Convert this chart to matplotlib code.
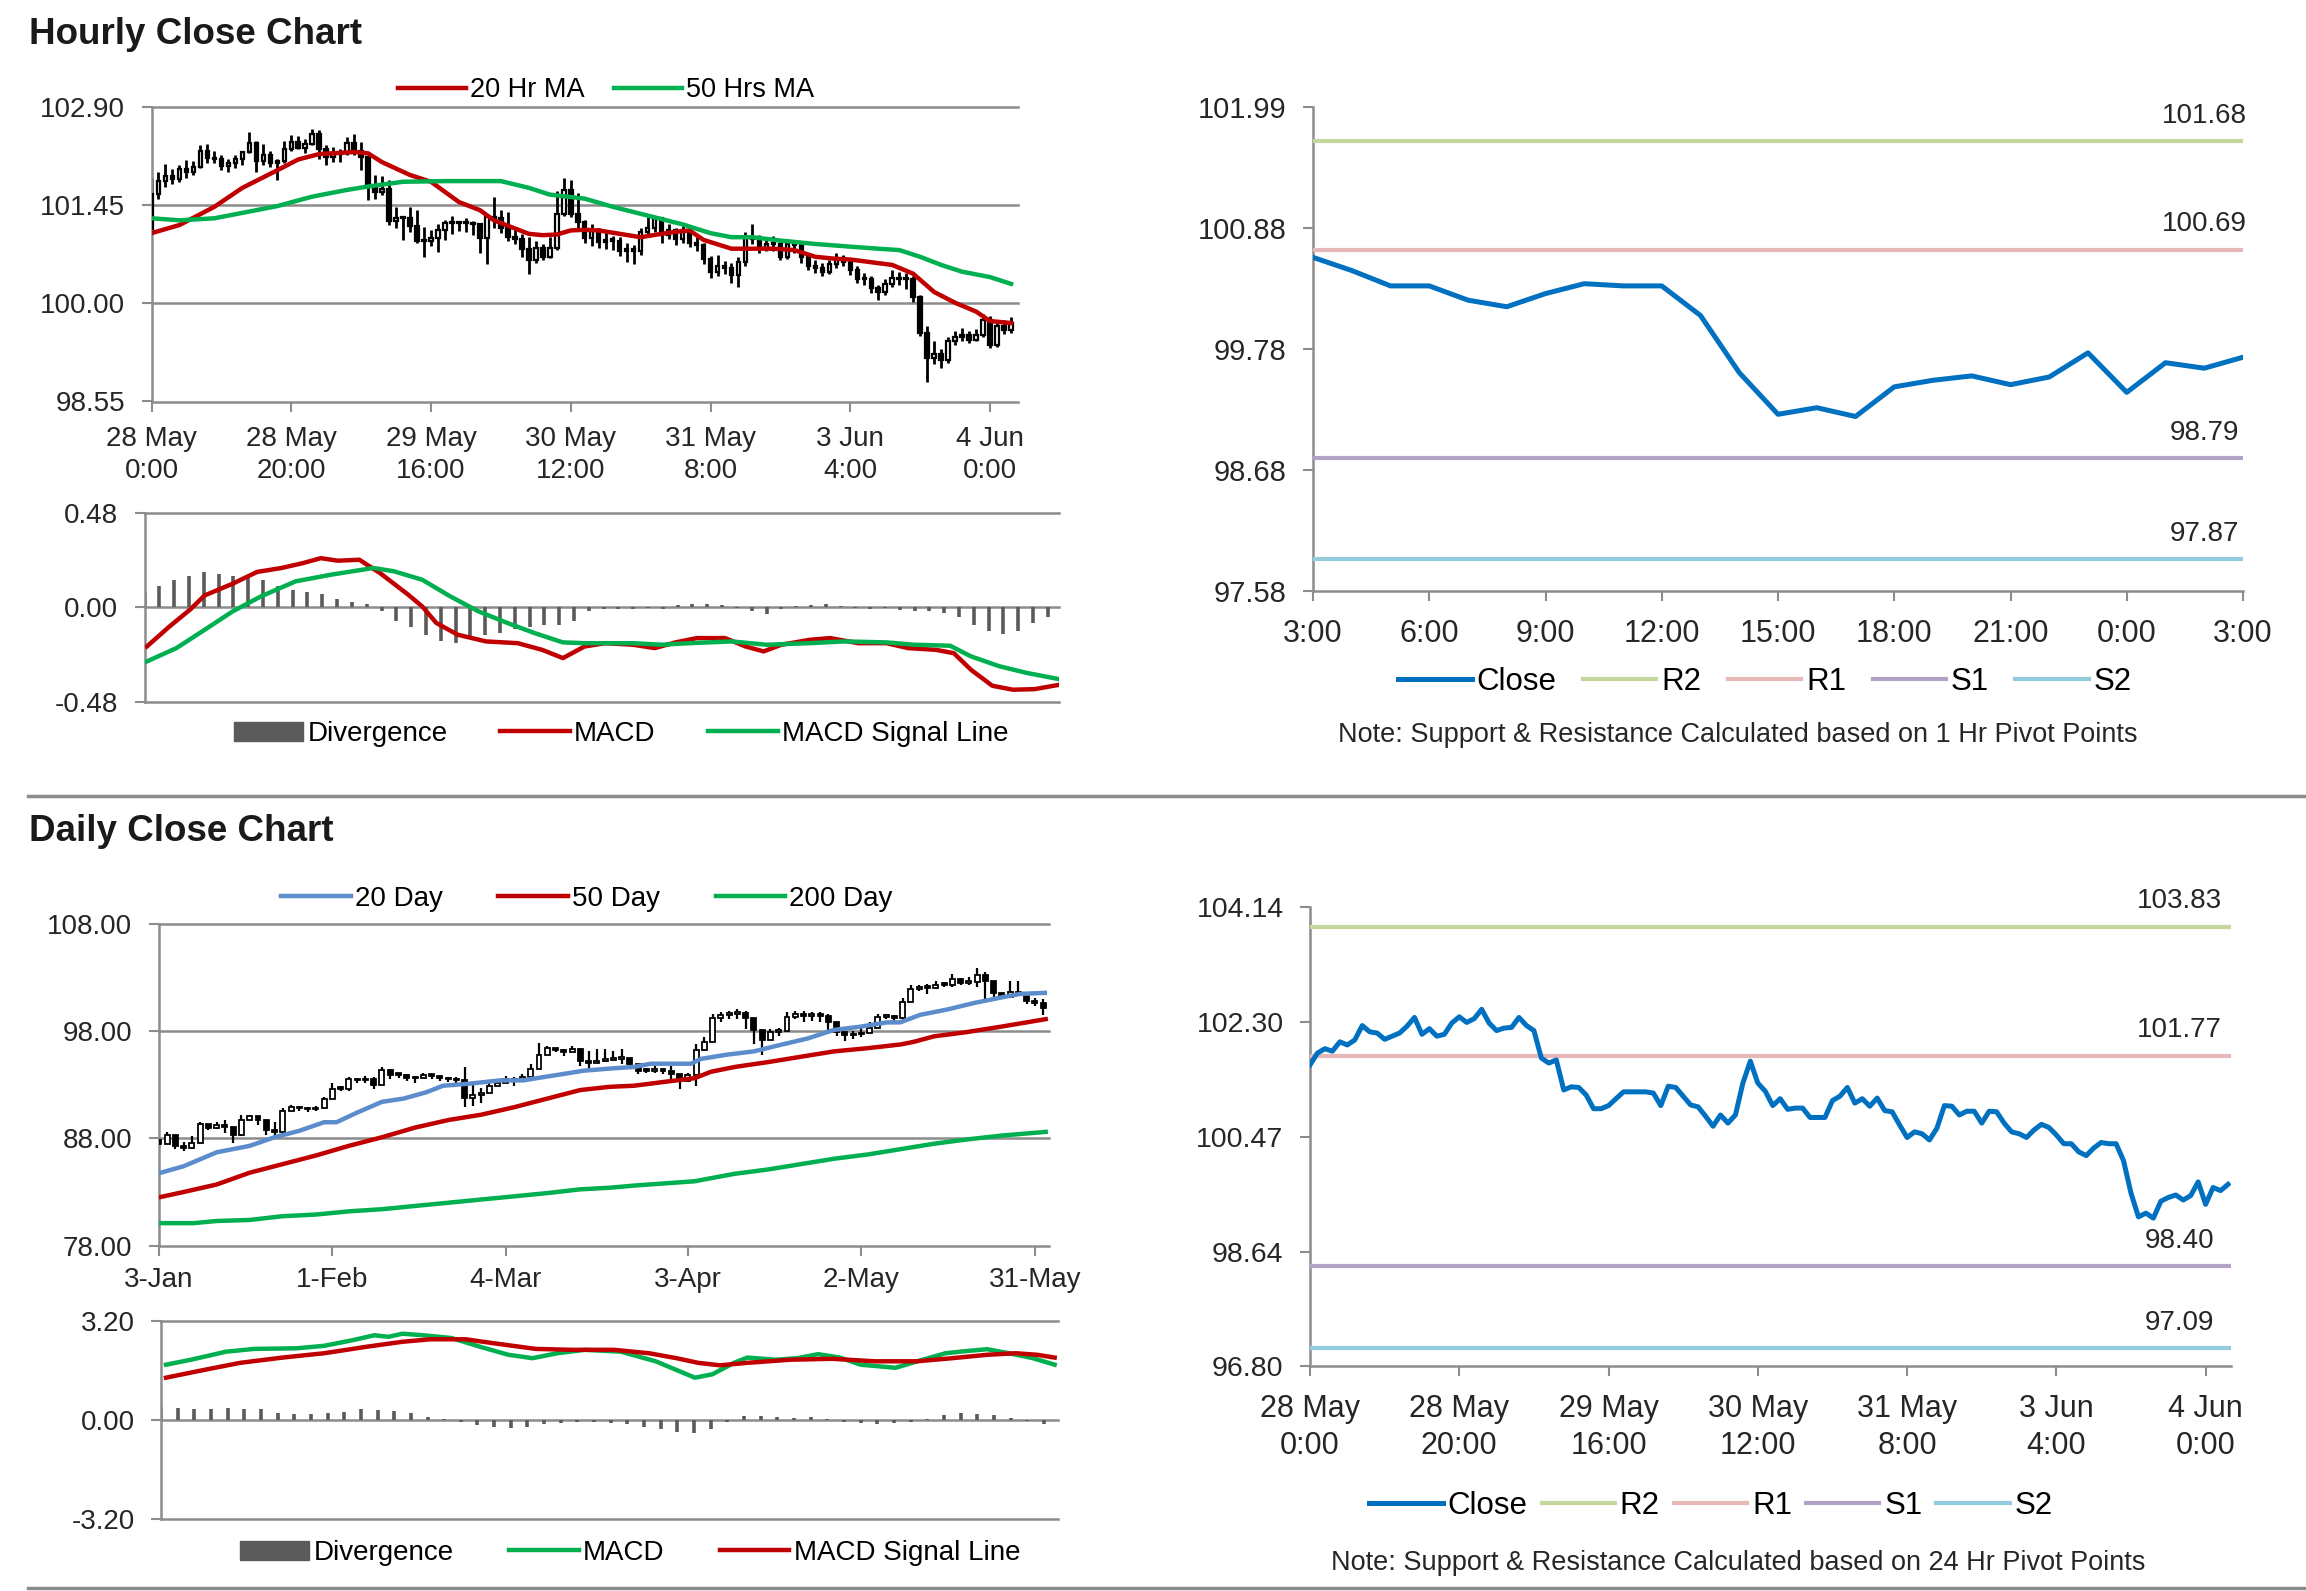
import matplotlib.pyplot as plt
from matplotlib.lines import Line2D
from matplotlib.patches import Patch
import numpy as np

plt.rcParams['font.family'] = ['Liberation Sans', 'DejaVu Sans']

W, H = 2306, 1591

# ---------------- hourly data (28 May 0:00 -> 4 Jun 3:00, one value per trading hour)
h_first_open = 101.10
h_close = [101.62, 101.81, 101.88, 101.84, 101.99, 101.94, 102.02, 102.25, 102.15, 102.13,
           102.03, 102.08, 102.13, 102.24, 102.38, 102.11, 102.20, 102.08, 102.11, 102.29,
           102.39, 102.30, 102.36, 102.51, 102.29, 102.17, 102.21, 102.22, 102.38, 102.25,
           102.17, 101.73, 101.65, 101.70, 101.22, 101.27, 101.26, 101.14, 100.92, 100.92,
           100.97, 101.08, 101.19, 101.19, 101.19, 101.19, 101.17, 100.97, 101.28, 101.26,
           101.12, 100.98, 100.95, 100.80, 100.64, 100.82, 100.69, 100.82, 101.33, 101.68,
           101.33, 101.20, 100.97, 101.08, 100.91, 100.93, 100.93, 100.78, 100.78, 100.78,
           101.05, 101.12, 101.26, 101.01, 101.08, 100.96, 101.09, 100.89, 100.87, 100.66,
           100.46, 100.55, 100.52, 100.42, 100.61, 100.97, 100.96, 100.82, 100.88, 100.88,
           100.69, 100.88, 100.87, 100.69, 100.55, 100.52, 100.46, 100.58, 100.67, 100.62,
           100.50, 100.36, 100.36, 100.23, 100.17, 100.29, 100.38, 100.36, 100.36, 100.09,
           99.57, 99.19, 99.25, 99.17, 99.44, 99.50, 99.54, 99.46, 99.53, 99.75,
           99.39, 99.66, 99.61, 99.71]
h_high = [101.85, 101.95, 102.07, 101.99, 102.05, 102.12, 102.10, 102.34, 102.36, 102.26,
          102.19, 102.14, 102.19, 102.26, 102.54, 102.41, 102.36, 102.26, 102.14, 102.41,
          102.49, 102.47, 102.44, 102.58, 102.56, 102.34, 102.31, 102.29, 102.46, 102.51,
          102.39, 102.17, 101.90, 101.88, 101.82, 101.43, 101.30, 101.42, 101.38, 101.13,
          101.08, 101.18, 101.23, 101.30, 101.22, 101.26, 101.22, 101.18, 101.30, 101.57,
          101.38, 101.35, 101.13, 101.03, 100.98, 100.93, 100.88, 100.98, 101.67, 101.85,
          101.82, 101.63, 101.23, 101.18, 101.12, 101.05, 101.00, 100.98, 100.90, 100.86,
          101.12, 101.28, 101.30, 101.27, 101.18, 101.12, 101.15, 101.10, 100.98, 100.90,
          100.70, 100.72, 100.63, 100.60, 100.69, 101.05, 101.18, 101.02, 100.98, 101.00,
          100.93, 100.95, 100.93, 100.90, 100.74, 100.64, 100.60, 100.65, 100.74, 100.72,
          100.66, 100.55, 100.45, 100.40, 100.28, 100.36, 100.49, 100.46, 100.45, 100.40,
          100.12, 99.66, 99.45, 99.32, 99.50, 99.60, 99.63, 99.60, 99.62, 99.85,
          99.82, 99.72, 99.75, 99.80]
h_low = [101.06, 101.55, 101.72, 101.77, 101.80, 101.85, 101.90, 102.00, 102.08, 102.08,
         101.97, 101.95, 102.00, 102.05, 102.22, 101.94, 102.05, 102.02, 101.82, 102.08,
         102.26, 102.28, 102.22, 102.34, 102.14, 102.05, 102.09, 102.09, 102.20, 102.20,
         101.97, 101.53, 101.55, 101.60, 101.16, 101.11, 100.94, 101.05, 100.89, 100.69,
         100.85, 100.76, 100.94, 101.03, 101.07, 101.05, 101.02, 100.74, 100.59, 101.11,
         101.04, 100.92, 100.88, 100.69, 100.44, 100.60, 100.64, 100.67, 100.79, 101.30,
         101.28, 101.12, 100.90, 100.85, 100.82, 100.80, 100.79, 100.70, 100.62, 100.59,
         100.72, 101.00, 101.05, 100.89, 100.95, 100.86, 100.90, 100.84, 100.78, 100.58,
         100.38, 100.40, 100.43, 100.30, 100.25, 100.55, 100.88, 100.75, 100.78, 100.78,
         100.65, 100.66, 100.74, 100.60, 100.49, 100.45, 100.40, 100.44, 100.53, 100.55,
         100.42, 100.30, 100.28, 100.15, 100.05, 100.12, 100.24, 100.28, 100.22, 100.02,
         99.52, 98.84, 99.10, 99.05, 99.12, 99.38, 99.45, 99.42, 99.44, 99.50,
         99.34, 99.36, 99.55, 99.56]

ma20_h_x = [0, 4, 9, 13, 18, 21, 24, 29, 31, 33, 37, 40, 42, 44, 47, 49, 52, 54, 56, 58,
            60, 62, 64, 67, 70, 73, 75, 77, 79, 83, 86, 89, 92, 95, 98, 100, 103, 106, 109, 112,
            115, 118, 120, 123]
ma20_h = [101.04, 101.16, 101.43, 101.71, 101.97, 102.13, 102.21, 102.24, 102.22, 102.09,
          101.90, 101.80, 101.65, 101.50, 101.38, 101.23, 101.11, 101.03, 101.01, 101.02,
          101.08, 101.09, 101.08, 101.03, 100.98, 101.03, 101.06, 101.08, 100.94, 100.81,
          100.81, 100.81, 100.79, 100.69, 100.66, 100.65, 100.61, 100.57, 100.44, 100.17,
          100.01, 99.88, 99.74, 99.71]
ma50_h_x = [0, 4, 9, 13, 18, 23, 28, 31, 36, 42, 50, 54, 57, 62, 66, 71, 76, 80, 83, 86,
            90, 95, 100, 104, 107, 110, 113, 116, 120, 123]
ma50_h = [101.26, 101.23, 101.26, 101.34, 101.44, 101.58, 101.68, 101.73, 101.80, 101.81,
          101.81, 101.71, 101.61, 101.55, 101.43, 101.30, 101.17, 101.04, 100.98, 100.98,
          100.93, 100.88, 100.84, 100.81, 100.79, 100.69, 100.57, 100.47, 100.39, 100.29]

macd_h_x = [0.3, 3.3, 6.2, 8.1, 11.9, 15.2, 18.5, 21.4, 23.8, 26.1, 29, 31.8, 35.6, 37.5,
            39.4, 42.3, 46.1, 50.4, 53.7, 56.5, 59.4, 62.2, 66, 68.9, 71.7, 74.6, 78.4, 81.2,
            83.6, 86, 89.8, 92.6, 96.4, 100.2, 103.1, 106.9, 109.3, 111.6, 114.5, 117.3,
            120.2, 123.5]
macd_h = [-0.20, -0.10, -0.01, 0.06, 0.12, 0.18, 0.20, 0.225, 0.25, 0.237, 0.242, 0.174,
          0.064, 0.004, -0.08, -0.14, -0.174, -0.183, -0.217, -0.259, -0.20, -0.183, -0.191,
          -0.208, -0.179, -0.157, -0.157, -0.20, -0.225, -0.191, -0.166, -0.157, -0.183,
          -0.183, -0.208, -0.217, -0.234, -0.318, -0.40, -0.42, -0.417, -0.395]
sig_h_x = [0.3, 4.3, 8.1, 11.9, 15.7, 20.4, 25.2, 30.9, 33.7, 37.5, 41.3, 45.1, 49, 52.7,
           56.5, 59.4, 66, 69.8, 73.6, 79.3, 84, 89.8, 94.5, 100.2, 104, 108.8, 111.6, 115.4,
           119.2, 123.5]
sig_h = [-0.276, -0.208, -0.115, -0.021, 0.055, 0.132, 0.166, 0.20, 0.183, 0.14, 0.055,
         -0.021, -0.08, -0.132, -0.179, -0.183, -0.183, -0.191, -0.183, -0.174, -0.191,
         -0.183, -0.174, -0.179, -0.191, -0.196, -0.25, -0.30, -0.335, -0.366]
# divergence, every second hour
div_h = [0.08, 0.11, 0.14, 0.16, 0.18, 0.17, 0.16, 0.15, 0.14, 0.11, 0.09, 0.08, 0.07,
         0.04, 0.025, 0.015, -0.02, -0.07, -0.10, -0.14, -0.17, -0.18, -0.16, -0.14, -0.13,
         -0.11, -0.10, -0.09, -0.09, -0.07, -0.02, -0.01, -0.01, -0.01, -0.005, -0.01, 0.01,
         0.015, 0.015, 0.01, -0.005, -0.02, -0.035, -0.01, 0.005, 0.01, 0.015, 0.005, -0.005,
         -0.01, -0.005, -0.015, -0.02, -0.02, -0.03, -0.05, -0.09, -0.12, -0.135, -0.12,
         -0.08, -0.05]

h_ticks = [0, 20, 40, 60, 80, 100, 120]
h_labels = ['28 May\n0:00', '28 May\n20:00', '29 May\n16:00', '30 May\n12:00',
            '31 May\n8:00', '3 Jun\n4:00', '4 Jun\n0:00']

# 1 hr pivot chart: last 25 hourly closes (3 Jun 3:00 -> 4 Jun 3:00)
p1_labels = ['3:00', '6:00', '9:00', '12:00', '15:00', '18:00', '21:00', '0:00', '3:00']
p1_levels = [101.68, 100.69, 98.79, 97.87]
p1_yticks = ['97.58', '98.68', '99.78', '100.88', '101.99']
p24_levels = [103.83, 101.77, 98.40, 97.09]
p24_yticks = ['96.80', '98.64', '100.47', '102.30', '104.14']
level_names = ['R2', 'R1', 'S1', 'S2']

# ---------------- daily data (3 Jan -> 4 Jun, trading days)
d_first_open = 87.8
d_close = [87.5, 88.3, 87.3, 87.1, 87.6, 89.3, 89.0, 89.2, 89.1, 88.3,
           89.7, 90.1, 89.7, 88.8, 88.6, 90.5, 90.9, 90.8, 90.7, 90.8,
           91.7, 92.6, 92.6, 93.5, 93.4, 93.5, 93.0, 94.4, 93.9, 93.9,
           93.6, 93.6, 93.9, 93.8, 93.6, 93.5, 93.4, 91.8, 92.0, 92.2,
           92.9, 93.2, 93.5, 93.3, 93.7, 94.5, 95.8, 96.4, 96.2, 96.0,
           96.3, 95.2, 95.0, 95.2, 95.3, 95.4, 95.5, 94.9, 94.3, 94.3,
           94.4, 94.3, 94.0, 93.3, 93.9, 96.2, 97.0, 99.2, 99.5, 99.6,
           99.7, 99.2, 98.1, 97.2, 97.9, 98.0, 99.3, 99.6, 99.4, 99.5,
           99.4, 98.8, 97.9, 97.6, 97.7, 97.8, 98.3, 99.3, 99.4, 99.2,
           100.7, 101.9, 102.0, 102.0, 102.3, 102.3, 102.8, 102.5, 102.6, 103.2,
           102.7, 101.5, 101.2, 101.6, 101.5, 100.8, 100.6, 100.1]
d_high = [87.94, 88.56, 88.0, 87.7, 88.25, 89.5, 89.25, 89.55, 89.75, 89.0,
          90.2, 90.2, 90.1, 88.95, 89.55, 90.8, 91.1, 91.0, 90.9, 91.0,
          91.85, 93.2, 92.9, 93.7, 93.6, 93.8, 93.7, 94.65, 94.45, 94.1,
          94.0, 93.8, 94.1, 93.95, 93.8, 93.7, 93.7, 94.65, 93.0, 92.7,
          93.2, 93.5, 93.8, 93.7, 93.95, 94.9, 96.85, 96.6, 96.45, 96.3,
          96.6, 96.45, 96.1, 96.3, 96.3, 96.1, 96.3, 95.2, 94.75, 94.55,
          94.75, 94.55, 94.75, 93.95, 94.1, 96.75, 97.4, 99.55, 99.75, 99.9,
          100.05, 99.9, 98.6, 97.9, 98.2, 98.3, 99.75, 99.9, 99.9, 99.75,
          99.75, 99.55, 98.3, 97.9, 98.0, 98.3, 98.8, 99.55, 99.55, 99.45,
          101.1, 102.25, 102.25, 102.4, 102.7, 102.55, 103.3, 102.9, 103.0, 103.9,
          103.5, 102.25, 101.45, 102.7, 102.7, 101.3, 101.1, 101.0]
d_low = [87.0, 88.0, 87.0, 86.85, 87.0, 88.2, 88.8, 88.9, 88.5, 87.55,
         88.2, 89.75, 89.25, 88.3, 88.2, 88.5, 90.7, 90.5, 90.45, 90.5,
         91.5, 92.25, 92.4, 92.4, 93.2, 93.2, 92.55, 93.2, 93.5, 93.6,
         93.3, 93.2, 93.6, 93.5, 93.3, 93.25, 93.2, 90.9, 91.0, 91.3,
         92.7, 92.9, 93.3, 92.9, 93.5, 94.1, 94.75, 96.1, 96.0, 95.7,
         96.0, 94.75, 94.55, 95.05, 95.1, 95.2, 94.9, 94.75, 93.95, 94.1,
         94.1, 93.95, 93.2, 92.55, 93.6, 92.9, 96.1, 98.0, 98.8, 99.1,
         99.1, 98.2, 96.75, 95.8, 97.4, 97.55, 98.2, 99.1, 98.8, 98.9,
         98.8, 98.0, 97.55, 97.05, 97.25, 97.4, 98.0, 98.9, 99.1, 98.8,
         98.8, 100.7, 101.75, 101.45, 102.05, 102.05, 102.05, 102.25, 102.25, 102.05,
         100.7, 101.1, 101.0, 101.3, 101.3, 100.5, 100.35, 99.45]

ma20_d_x = [0, 3, 7, 11, 14, 17, 20, 21.5, 24, 27, 29.6, 32.4, 34.4, 37.7, 41.3, 44.1, 45.7,
            49, 51.4, 54.6, 57.5, 59.5, 61.6, 64.4, 65.6, 68.8, 72, 75.2, 78.5, 81.7, 84.9,
            88.1, 89.7, 92.1, 95.4, 98.6, 101.8, 104.2, 107.2]
ma20_d = [84.75, 85.4, 86.7, 87.3, 88.1, 88.7, 89.5, 89.5, 90.4, 91.4, 91.7, 92.3, 92.9,
          93.1, 93.4, 93.4, 93.6, 94.0, 94.3, 94.5, 94.65, 94.95, 94.95, 94.95, 95.4, 95.8,
          96.1, 96.7, 97.3, 98.1, 98.4, 98.8, 98.8, 99.5, 100.0, 100.6, 101.1, 101.45, 101.55]
ma50_d_x = [0, 3, 7, 11, 15, 19, 23, 27, 31, 35, 39, 43, 47, 51, 54.6, 57.5, 61.6, 64.8,
            66.8, 69.7, 73.7, 77.7, 81.7, 85.8, 89.8, 91.4, 93.8, 97.8, 101.9, 107.3]
ma50_d = [82.5, 83.0, 83.7, 84.8, 85.6, 86.4, 87.3, 88.1, 89.0, 89.7, 90.2, 90.9, 91.7,
          92.5, 92.8, 92.9, 93.3, 93.6, 94.2, 94.65, 95.1, 95.6, 96.1, 96.4, 96.75, 97.0,
          97.5, 97.9, 98.4, 99.1]
ma200_d_x = [0, 4.2, 7, 11, 15, 19, 23, 27, 31, 35, 39, 43, 47, 51, 54.6, 57.5, 64.8,
             69.7, 73.7, 77.7, 81.7, 85.8, 89.8, 93.8, 97.8, 101.9, 107.3]
ma200_d = [80.1, 80.1, 80.3, 80.4, 80.75, 80.9, 81.2, 81.4, 81.7, 82.0, 82.3, 82.6, 82.9,
           83.25, 83.4, 83.6, 84.0, 84.7, 85.1, 85.6, 86.1, 86.5, 87.0, 87.5, 87.9, 88.25,
           88.6]

macd_d_x = [0.6, 3.6, 7.8, 11.2, 16.3, 19.6, 23, 25.6, 27.3, 29, 31.5, 34.9, 38.3, 41.7,
            44.6, 47.6, 50.9, 55.2, 59.4, 64.1, 66.2, 68.8, 70.4, 73.8, 76.4, 78.9, 81.5, 84,
            88.2, 90.8, 94.2, 96.7, 99.2, 101.8, 104.7, 107.3]
macd_d = [1.78, 1.94, 2.20, 2.29, 2.31, 2.39, 2.57, 2.73, 2.68, 2.78, 2.73, 2.64, 2.36,
          2.10, 1.99, 2.15, 2.26, 2.20, 1.89, 1.36, 1.47, 1.84, 2.01, 1.94, 1.99, 2.12,
          2.01, 1.78, 1.68, 1.89, 2.15, 2.22, 2.28, 2.15, 1.99, 1.78]
sig_d_x = [0.6, 4.4, 9.5, 14.6, 19.6, 24.7, 29, 32.3, 36.6, 40, 45, 49.3, 54.4, 58.6, 61.9,
           64.5, 67.1, 70.4, 75.5, 80.6, 85.7, 90.8, 95, 99.2, 102.6, 105.2, 107.3]
sig_d = [1.36, 1.57, 1.84, 2.01, 2.15, 2.36, 2.52, 2.60, 2.60, 2.47, 2.29, 2.26, 2.26,
         2.15, 1.99, 1.84, 1.76, 1.84, 1.94, 1.97, 1.89, 1.89, 1.99, 2.10, 2.15, 2.10, 2.01]
# divergence, every second day
div_d = [0.40, 0.38, 0.36, 0.36, 0.38, 0.36, 0.34, 0.22, 0.20, 0.20, 0.22, 0.26, 0.34,
         0.32, 0.28, 0.22, 0.10, 0.04, -0.08, -0.16, -0.22, -0.26, -0.24, -0.14, -0.10,
         -0.06, -0.08, -0.10, -0.14, -0.22, -0.30, -0.38, -0.42, -0.30, -0.06, 0.14, 0.12,
         0.08, 0.06, 0.08, 0.04, -0.06, -0.10, -0.12, -0.10, -0.06, 0.04, 0.16, 0.22, 0.20,
         0.16, 0.06, -0.04, -0.14]

d_ticks = [0, 21, 42, 64, 85, 106]
d_labels = ['3-Jan', '1-Feb', '4-Mar', '3-Apr', '2-May', '31-May']

# ---------------- styling
GRID = '#8c8c8c'
TXT = '#262626'
RED = '#c00000'
GREEN = '#00b050'
MA_BLUE = '#5b8ccb'
CLOSE_BLUE = '#0070c0'
DIV_GRAY = '#5a5a5a'
LEVEL_COLORS = ['#c3d69b', '#e6b9b8', '#b3a2c7', '#93cddd']


def box(l, t, r, b):
    return [l / W, 1 - b / H, (r - l) / W, (b - t) / H]


def style(ax, fs, grid_vals=None, xfs=None, xpad=8):
    for s in ['top', 'right']:
        ax.spines[s].set_visible(False)
    for s in ['left', 'bottom']:
        ax.spines[s].set_color(GRID)
        ax.spines[s].set_linewidth(1.8)
    ax.tick_params(axis='both', colors=GRID, labelcolor=TXT, length=7, width=1.5)
    ax.tick_params(axis='y', labelsize=fs, pad=12)
    if xfs:
        ax.tick_params(axis='x', labelsize=xfs, pad=xpad)
    if grid_vals is not None:
        for g in grid_vals:
            ax.axhline(g, color=GRID, lw=1.8, zorder=0.5, clip_on=False)


def candles(ax, first_open, close, high, low, width, lw):
    close = np.asarray(close)
    opn = np.r_[first_open, close[:-1]]
    x = np.arange(len(close))
    top = np.maximum(np.maximum(high, opn), close)
    bot = np.minimum(np.minimum(low, opn), close)
    ax.vlines(x, bot, top, color='black', lw=lw, zorder=2)
    body = np.maximum(np.abs(close - opn), 0.005 * (ax.get_ylim()[1] - ax.get_ylim()[0]))
    faces = ['white' if c > o else 'black' for o, c in zip(opn, close)]
    ax.bar(x, body, width=width, bottom=np.minimum(opn, close), color=faces,
           edgecolor='black', linewidth=lw * 0.8, zorder=3)


def legend(ax, handles, labels, cx, cy, fs, cs, hl=2.5):
    ax.legend(handles, labels, loc='center', bbox_to_anchor=(cx / W, 1 - cy / H),
              bbox_transform=fig.transFigure, ncol=len(labels), frameon=False, fontsize=fs,
              handlelength=hl, handletextpad=0.15, columnspacing=cs)


fig = plt.figure(figsize=(W / 100, H / 100), dpi=100)

# titles and separators
fig.text(29 / W, 1 - 35 / H, 'Hourly Close Chart', fontsize=26.5, fontweight='bold',
         color='#1a1a1a', va='center', ha='left')
fig.text(29 / W, 1 - 832 / H, 'Daily Close Chart', fontsize=26.5, fontweight='bold',
         color='#1a1a1a', va='center', ha='left')
fig.add_artist(Line2D([28 / W, 1], [1 - 796 / H] * 2, color='#8c8c8c', lw=2.5))
fig.add_artist(Line2D([28 / W, 1], [1 - 1588 / H] * 2, color='#8c8c8c', lw=2.5))

# ---- hourly candles
ax = fig.add_axes(box(151.5, 107.4, 1018, 401.5))
ax.set_xlim(0, 124)
ax.set_ylim(98.55, 102.90)
candles(ax, h_first_open, h_close, h_high, h_low, 0.5, 2.0)
l1, = ax.plot(ma20_h_x, ma20_h, color=RED, lw=3.2, zorder=4)
l2, = ax.plot(ma50_h_x, ma50_h, color=GREEN, lw=3.2, zorder=4)
ax.set_yticks([98.55, 100.00, 101.45, 102.90])
ax.set_yticklabels(['98.55', '100.00', '101.45', '102.90'])
ax.set_xticks(h_ticks)
ax.set_xticklabels(h_labels, linespacing=1.3)
style(ax, 20, [100.00, 101.45, 102.90], xfs=20, xpad=11)
legend(ax, [l1, l2], ['20 Hr MA', '50 Hrs MA'], 606, 90, 19.5, 1.1)

# ---- hourly MACD
ax = fig.add_axes(box(144.6, 513, 1059, 701.5))
ax.set_xlim(0, 123.5)
ax.set_ylim(-0.48, 0.48)
ax.vlines(np.arange(0, 2 * len(div_h), 2), 0, div_h, color=DIV_GRAY, lw=2.6, zorder=2)
ax.plot(macd_h_x, macd_h, color=RED, lw=3.2, zorder=4)
ax.plot(sig_h_x, sig_h, color=GREEN, lw=3.2, zorder=4)
ax.set_yticks([-0.48, 0, 0.48])
ax.set_yticklabels(['-0.48', '0.00', '0.48'])
ax.set_xticks([])
style(ax, 20, [-0.48, 0, 0.48])
ax.spines['bottom'].set_visible(False)
handles = [Patch(color=DIV_GRAY), Line2D([], [], color=RED, lw=3.2),
           Line2D([], [], color=GREEN, lw=3.2)]
legend(ax, handles, ['Divergence', 'MACD', 'MACD Signal Line'], 621, 734, 20, 1.9)

# ---- 1 hr pivot chart
ax = fig.add_axes(box(1313, 107, 2243, 591))
ax.set_xlim(0, 24)
ax.set_ylim(97.58, 101.99)
hs = [ax.plot(np.arange(25), h_close[99:], color=CLOSE_BLUE, lw=3.6, zorder=4)[0]]
for name, lvl, col in zip(level_names, p1_levels, LEVEL_COLORS):
    hs.append(ax.axhline(lvl, color=col, lw=3.0, zorder=3))
    ax.annotate(f'{lvl:.2f}', (23, lvl), xytext=(0, 9), textcoords='offset points',
                ha='center', va='bottom', fontsize=20, color=TXT)
ax.set_yticks(np.linspace(97.58, 101.99, 5))
ax.set_yticklabels(p1_yticks)
ax.set_xticks(np.arange(0, 25, 3))
ax.set_xticklabels(p1_labels)
style(ax, 21, xfs=22, xpad=13)
legend(ax, hs, ['Close'] + level_names, 1765, 682, 22.5, 0.85, hl=2.35)
fig.text(1738 / W, 1 - 735 / H, 'Note: Support & Resistance Calculated based on 1 Hr Pivot Points',
         ha='center', va='center', fontsize=19.5, color=TXT)

# ---- daily candles
ax = fig.add_axes(box(158.8, 923.6, 1049, 1245.7))
ax.set_xlim(0, 107.7)
ax.set_ylim(78, 108)
candles(ax, d_first_open, d_close, d_high, d_low, 0.6, 1.6)
m1, = ax.plot(ma20_d_x, ma20_d, color=MA_BLUE, lw=3.2, zorder=4)
m2, = ax.plot(ma50_d_x, ma50_d, color=RED, lw=3.2, zorder=4)
m3, = ax.plot(ma200_d_x, ma200_d, color=GREEN, lw=3.2, zorder=4)
ax.set_yticks([78, 88, 98, 108])
ax.set_yticklabels(['78.00', '88.00', '98.00', '108.00'])
ax.set_xticks(d_ticks)
ax.set_xticklabels(d_labels)
style(ax, 20, [88, 98, 108], xfs=20, xpad=8)
legend(ax, [m1, m2, m3], ['20 Day', '50 Day', '200 Day'], 587, 899, 20, 2.0)

# ---- daily MACD
ax = fig.add_axes(box(161, 1320.7, 1058, 1519))
ax.set_xlim(0, 107.7)
ax.set_ylim(-3.2, 3.2)
ax.vlines(np.arange(0, 2 * len(div_d), 2), 0, div_d, color=DIV_GRAY, lw=2.6, zorder=2)
ax.plot(macd_d_x, macd_d, color=GREEN, lw=3.2, zorder=4)
ax.plot(sig_d_x, sig_d, color=RED, lw=3.2, zorder=4)
ax.set_yticks([-3.2, 0, 3.2])
ax.set_yticklabels(['-3.20', '0.00', '3.20'])
ax.set_xticks([])
style(ax, 20, [-3.2, 0, 3.2])
ax.spines['bottom'].set_visible(False)
handles = [Patch(color=DIV_GRAY), Line2D([], [], color=GREEN, lw=3.2),
           Line2D([], [], color=RED, lw=3.2)]
legend(ax, handles, ['Divergence', 'MACD', 'MACD Signal Line'], 630, 1553, 20, 2.0)

# ---- 24 hr pivot chart
ax = fig.add_axes(box(1310, 907.4, 2231, 1366.3))
ax.set_xlim(0, 123.4)
ax.set_ylim(96.80, 104.14)
hs = [ax.plot(np.arange(len(h_close)), h_close, color=CLOSE_BLUE, lw=3.6, zorder=4)[0]]
for name, lvl, col in zip(level_names, p24_levels, LEVEL_COLORS):
    hs.append(ax.axhline(lvl, color=col, lw=3.0, zorder=3))
    ax.annotate(f'{lvl:.2f}', (116.5, lvl), xytext=(0, 9), textcoords='offset points',
                ha='center', va='bottom', fontsize=20, color=TXT)
ax.set_yticks(np.linspace(96.80, 104.14, 5))
ax.set_yticklabels(p24_yticks)
ax.set_xticks(h_ticks)
ax.set_xticklabels(h_labels, linespacing=1.32)
style(ax, 20.5, xfs=22, xpad=13)
legend(ax, hs, ['Close'] + level_names, 1711, 1506, 22.5, 0.45, hl=2.35)
fig.text(1738 / W, 1 - 1563 / H, 'Note: Support & Resistance Calculated based on 24 Hr Pivot Points',
         ha='center', va='center', fontsize=19.5, color=TXT)

fig.savefig('out.png', dpi=100)
